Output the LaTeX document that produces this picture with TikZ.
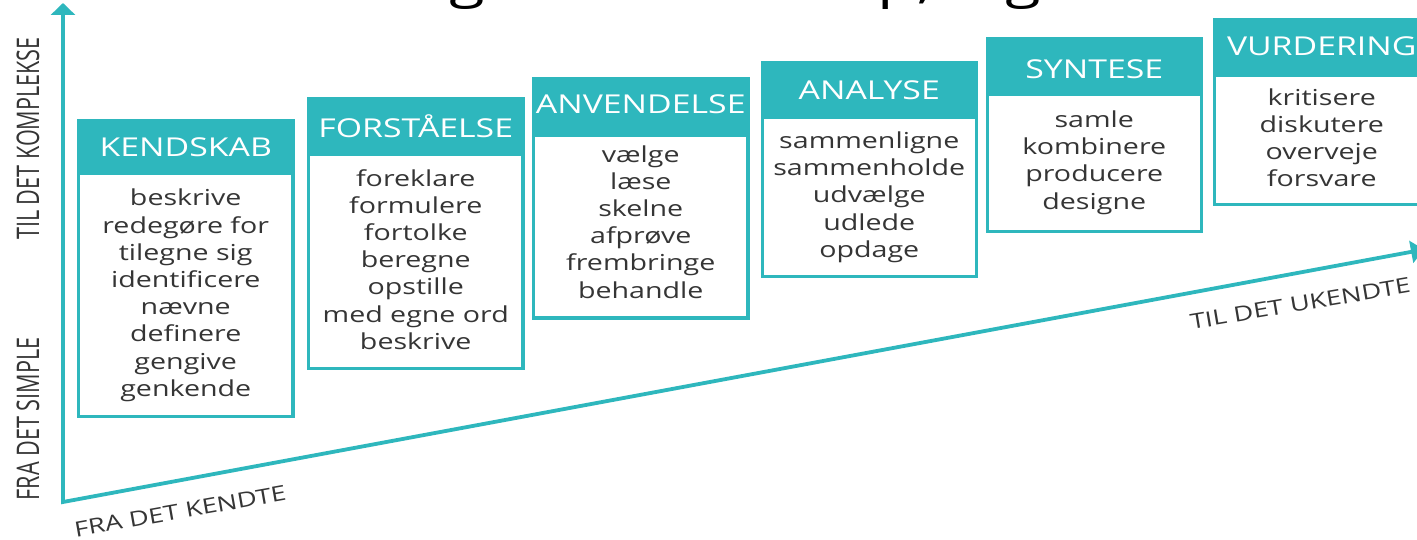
\documentclass[tikz,border=0pt]{standalone}
\usepackage{fontspec}
\setmainfont{Open Sans}
\newfontfamily\wide[FakeStretch=1.3]{Open Sans}
\usetikzlibrary{arrows.meta}
\definecolor{tealc}{HTML}{2EB7BD}
\definecolor{ink}{HTML}{353535}
\tikzset{
  boxframe/.style={draw=tealc, fill=white, line width=3.2pt, anchor=north west,
    inner sep=0pt, outer sep=0pt, minimum width=214.3pt},
  headbox/.style={draw=tealc, fill=tealc, line width=3.2pt, anchor=north west,
    inner sep=0pt, outer sep=0pt, minimum width=214.3pt},
  headtext/.style={text=white, font={\wide\fontsize{26}{30}\selectfont}, anchor=base, inner sep=0pt},
  bodytext/.style={text=ink, font={\wide\fontsize{22}{27.2}\selectfont}, align=center,
    text width=205pt, anchor=north, inner sep=0pt},
  axis/.style={draw=tealc, line width=3.8pt, line join=miter},
  vlabel/.style={text=ink, font={\fontsize{24}{24}\selectfont}, rotate=90, inner sep=0pt},
  slabel/.style={text=ink, font={\wide\fontsize{21}{21}\selectfont}, anchor=base, inner sep=0pt},
  titlefrag/.style={text=black, font={\wide\fontsize{50}{50}\selectfont}, inner sep=0pt}
}
% #1 name, #2 left, #3 top, #4 header bottom, #5 bottom, #6 title baseline, #7 first text baseline, #8 title, #9 lines
\newcommand\lvlbox[9]{%
  \node[boxframe, minimum height={#5-#3-3.2}] (#1-frame) at (#2+1.6,#3+1.6) {};
  \node[headbox, minimum height={#4-#3-3.2}] (#1-head) at (#2+1.6,#3+1.6) {};
  \node[headtext] (#1-title) at (#2+108.75,#6) {#8};
  \node[bodytext] (#1-text) at (#2+108.75,#7-18) {\rule{0pt}{18pt}#9};
}
\begin{document}
\begin{tikzpicture}[x=1pt,y=-1pt]
\useasboundingbox (0,0) rectangle (1417,540);
\clip (0,0) rectangle (1417,540);
\fill[white] (0,0) rectangle (1417,540);

% clipped title fragments
\node[titlefrag, anchor=base] (tg1) at (467,-2) {g};
\node[titlefrag, anchor=base west] (tp) at (877,-2) {p,};
\node[titlefrag, anchor=base] (tg2) at (1023,-2) {g};

% axes
\coordinate (o) at (63,502);
\coordinate (ytop) at (63,3);
\coordinate (xend) at (1424,249.5);
\draw[axis, {Triangle[width=24pt,length=12pt]}-{Triangle[width=22pt,length=13pt]}] (ytop) -- (o) -- (xend);

% boxes
\lvlbox{k}{77}{118.7}{175.4}{418}{156.5}{205.7}{KENDSKAB}
  {beskrive\\redegøre for\\tilegne sig\\identificere\\nævne\\definere\\gengive\\genkende}
\lvlbox{f}{307}{97}{156}{370}{137.3}{186}{FORSTÅELSE}
  {foreklare\\formulere\\fortolke\\beregne\\opstille\\med egne ord\\beskrive}
\lvlbox{a}{532}{77}{137}{319.5}{113.3}{162}{ANVENDELSE}
  {vælge\\læse\\skelne\\afprøve\\frembringe\\behandle}
\lvlbox{n}{760.5}{60.7}{119.3}{278}{99.3}{148.3}{ANALYSE}
  {sammenligne\\sammenholde\\udvælge\\udlede\\opdage}
\lvlbox{s}{985.5}{36.7}{96}{233.5}{78.3}{127.3}{SYNTESE}
  {samle\\kombinere\\producere\\designe}
\lvlbox{v}{1213}{18}{77}{206}{56}{105}{VURDERING}
  {kritisere\\diskutere\\overveje\\forsvare}

% axis labels
\node[vlabel] (lk) at (28,138.5) {\scalebox{0.9}[1.3]{TIL DET KOMPLEKSE}};
\node[vlabel] (ls) at (28,418.8) {\scalebox{0.9}[1.3]{FRA DET SIMPLE}};
\node[slabel, rotate=10] (lfk) at (181.5,518.5) {FRA DET KENDTE};
\node[slabel, rotate=9.6] (ltu) at (1301.5,311) {TIL DET UKENDTE};
\end{tikzpicture}
\end{document}
